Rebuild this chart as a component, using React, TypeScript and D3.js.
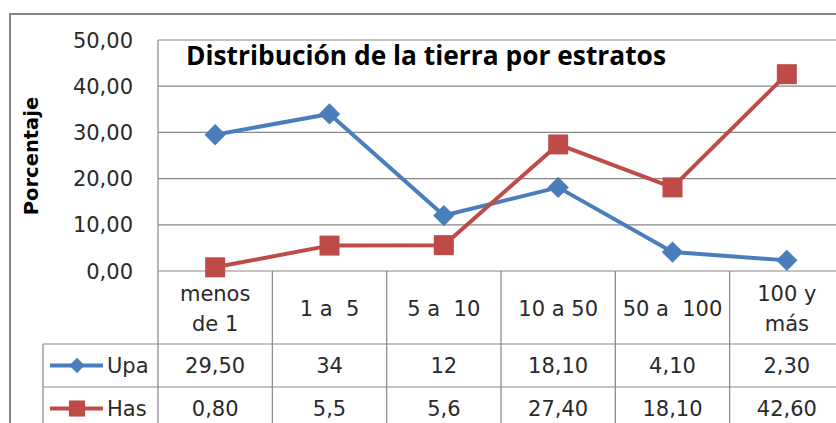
import React, { useEffect, useRef } from 'react';
import * as d3 from 'd3';

const categories = ['menos de 1', '1 a  5', '5 a  10', '10 a 50', '50 a  100', '100 y más'];
const categoryLines = [['menos', 'de 1'], ['1 a  5'], ['5 a  10'], ['10 a 50'], ['50 a  100'], ['100 y', 'más']];
const upa = [29.5, 34, 12, 18.1, 4.1, 2.3];
const has = [0.8, 5.5, 5.6, 27.4, 18.1, 42.6];
const upaLabels = ['29,50', '34', '12', '18,10', '4,10', '2,30'];
const hasLabels = ['0,80', '5,5', '5,6', '27,40', '18,10', '42,60'];
const yTicks = [0, 10, 20, 30, 40, 50];

const W = 836, H = 423;
const GRID = '#868686';
const FONT = '"DejaVu Sans", sans-serif';
const INK = '#2a2a2a';

const App = () => {
  const node = useRef<SVGSVGElement>(null);

  useEffect(() => {
    const svg = d3.select(node.current);
    svg.selectAll('*').remove();

    const x = d3.scaleBand().domain(categories).range([158, 844]);
    const y = d3.scaleLinear().domain([0, 50]).range([271, 40]);
    const rowTop = [271, 344, 387, 430];

    // outer chart border
    svg.append('path')
      .attr('d', `M10,${H} L10,14 L${W},14`)
      .attr('fill', 'none')
      .attr('stroke', GRID)
      .attr('stroke-width', 2);

    // gridlines
    svg.append('g').selectAll('line')
      .data(yTicks)
      .enter().append('line')
        .attr('x1', 158).attr('x2', W)
        .attr('y1', (d) => y(d)).attr('y2', (d) => y(d))
        .attr('stroke', GRID).attr('stroke-width', 1.2);

    // y tick labels
    svg.append('g').selectAll('text')
      .data(yTicks)
      .enter().append('text')
        .attr('x', 133).attr('y', (d) => y(d))
        .attr('dy', '0.36em')
        .style('text-anchor', 'end')
        .style('font-family', FONT)
        .style('font-size', '21px')
        .style('fill', INK)
        .text((d) => d3.format('.2f')(d).replace('.', ','));

    // data table lines
    const table = svg.append('g').attr('stroke', GRID).attr('stroke-width', 1.2);
    table.append('line').attr('x1', 158).attr('x2', 158).attr('y1', 40).attr('y2', H);
    categories.forEach((c) => {
      const xr = (x(c) as number) + x.bandwidth();
      table.append('line').attr('x1', xr).attr('x2', xr).attr('y1', 271).attr('y2', H);
    });
    table.append('line').attr('x1', 43).attr('x2', 43).attr('y1', rowTop[1]).attr('y2', H);
    [rowTop[1], rowTop[2]].forEach((ry) => {
      table.append('line').attr('x1', 43).attr('x2', W).attr('y1', ry).attr('y2', ry);
    });

    const cx = (c: string) => (x(c) as number) + x.bandwidth() / 2;

    // category header
    categories.forEach((c, i) => {
      const lines = categoryLines[i];
      const mid = (rowTop[0] + rowTop[1]) / 2 + 1;
      lines.forEach((t, j) => {
        svg.append('text')
          .attr('x', cx(c))
          .attr('y', mid + (j - (lines.length - 1) / 2) * 30)
          .attr('dy', '0.36em')
          .style('text-anchor', 'middle')
          .style('white-space', 'pre')
          .style('font-family', FONT)
          .style('font-size', '21px')
          .style('fill', INK)
          .text(t);
      });
    });

    const rows = [
      { name: 'Upa', labels: upaLabels, color: '#4a7ebb', marker: d3.symbolDiamond2, size: 290 },
      { name: 'Has', labels: hasLabels, color: '#be4b48', marker: d3.symbolSquare, size: 400 },
    ];

    rows.forEach((r, k) => {
      const ry = (rowTop[k + 1] + rowTop[k + 2]) / 2;
      r.labels.forEach((t, i) => {
        svg.append('text')
          .attr('x', cx(categories[i]))
          .attr('y', ry)
          .attr('dy', '0.36em')
          .style('text-anchor', 'middle')
          .style('font-family', FONT)
          .style('font-size', '21px')
          .style('fill', INK)
          .text(t);
      });
      // legend key
      svg.append('line')
        .attr('x1', 50).attr('x2', 103).attr('y1', ry).attr('y2', ry)
        .attr('stroke', r.color).attr('stroke-width', 4);
      svg.append('path')
        .attr('d', d3.symbol().type(r.marker).size(k === 0 ? 150 : 260)())
        .attr('transform', `translate(77,${ry})`)
        .attr('fill', r.color);
      svg.append('text')
        .attr('x', 107).attr('y', ry).attr('dy', '0.36em')
        .style('font-family', FONT)
        .style('font-size', '21px')
        .style('fill', INK)
        .text(r.name);
    });

    // series lines
    const series = [upa, has];
    series.forEach((vals, k) => {
      const r = rows[k];
      const line = d3.line<number>()
        .x((_, i) => cx(categories[i]))
        .y((d) => y(d));
      svg.append('path')
        .attr('d', line(vals) as string)
        .attr('fill', 'none')
        .attr('stroke', r.color)
        .attr('stroke-width', 4)
        .attr('stroke-linejoin', 'round');
      svg.append('g').selectAll('path')
        .data(vals)
        .enter().append('path')
          .attr('d', d3.symbol().type(r.marker).size(r.size)())
          .attr('transform', (d, i) => `translate(${cx(categories[i])},${y(d)})`)
          .attr('fill', r.color);
    });

    // title
    svg.append('text')
      .attr('x', 186).attr('y', 65)
      .attr('textLength', 480)
      .attr('lengthAdjust', 'spacingAndGlyphs')
      .style('font-family', '"Open Sans", sans-serif')
      .style('font-weight', '700')
      .style('font-size', '26px')
      .style('fill', '#000')
      .text('Distribución de la tierra por estratos');

    // axis title
    svg.append('text')
      .attr('transform', 'translate(38,156) rotate(-90)')
      .style('text-anchor', 'middle')
      .style('font-family', FONT)
      .style('font-weight', '700')
      .style('font-size', '19.5px')
      .style('fill', '#000')
      .text('Porcentaje');
  }, []);

  return (
    <svg ref={node} width={W} height={H}
      style={{ position: 'fixed', left: 0, top: 0, background: '#fff' }} />
  );
};

export default App;
